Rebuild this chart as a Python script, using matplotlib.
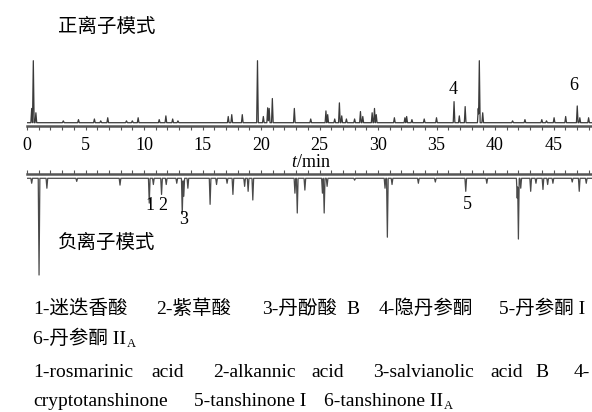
import numpy as np
import matplotlib
matplotlib.use("Agg")
import matplotlib.pyplot as plt
from matplotlib.ticker import MultipleLocator

plt.rcParams['font.family'] = ['Liberation Serif', 'Noto Sans CJK SC']
plt.rcParams['mathtext.fontset'] = 'custom'
plt.rcParams['mathtext.rm'] = 'Liberation Serif'
plt.rcParams['mathtext.it'] = 'Liberation Serif:italic'

# ---------------- data (relative intensity, largest positive peak = 100) ----
pos_rt = [0.40, 0.54, 0.76, 3.1, 4.4, 5.76, 6.3, 6.9, 8.5, 9.0, 9.5, 11.3, 11.87,
          12.45, 12.9, 17.2, 17.5, 18.4, 19.7, 20.2, 20.57, 20.7, 20.97, 22.85,
          24.25, 25.55, 25.7, 26.3, 26.7, 26.9, 27.3, 28.0, 28.5, 28.7, 29.5,
          29.7, 29.85, 31.4, 32.3, 32.45, 32.9, 33.95, 35.0, 36.5, 36.95, 37.45,
          38.57, 38.66, 38.95, 41.5, 42.56, 44.0, 44.4, 45.05, 46.04, 47.03,
          47.25, 48.0]
pos_int = [23, 100, 16, 3, 5, 6, 3, 8, 3, 3, 8, 5, 11,
           6, 3, 10, 13, 13, 100, 10, 24, 23, 39, 23,
           6, 19, 13, 6, 32, 11, 6, 6, 18, 10, 16,
           23, 13, 8, 8, 10, 5, 6, 8, 34, 11, 26,
           23, 100, 16, 3, 5, 5, 3, 8, 10, 27,
           8, 8]

neg_rt = [0.4, 1.03, 1.7, 4.25, 7.95, 10.45, 10.8, 11.5, 11.9, 12.8, 13.27, 13.4,
          13.75, 15.65, 16.2, 17.1, 17.6, 18.6, 18.9, 19.3, 22.9, 23.1, 23.75,
          25.25, 25.4, 25.65, 28.0, 30.6, 30.8, 31.2, 33.45, 34.9, 37.5, 39.3,
          41.9, 42.0, 42.2, 43.05, 43.5, 44.1, 44.5, 44.95, 46.6, 47.2, 47.8]
neg_int = [8, 156, 16, 5, 11, 40, 10, 26, 10, 8, 58, 29,
           16, 42, 10, 8, 26, 13, 21, 35, 24, 56, 19,
           24, 56, 13, 3, 16, 95, 10, 8, 6, 21, 8,
           32, 98, 16, 21, 8, 18, 10, 8, 6, 21, 8]

pos_labels = ['4', '6']
pos_label_rt = [36.4, 46.7]
neg_labels = ['1', '2', '3', '5']
neg_label_rt = [10.5, 11.6, 13.4, 37.6]

x_major = 5
x_max_label = 45


def trace(rts, ints, sign=1.0, hw=0.07):
    t = np.arange(0.0, 49.0, 0.01)
    y = np.zeros_like(t)
    for r, h in zip(rts, ints):
        tri = np.interp(t, [r - hw, r, r + hw], [0, h, 0], left=0, right=0)
        y = np.maximum(y, tri)
    return t, sign * y


W, H = 592, 412
fig = plt.figure(figsize=(W / 100, H / 100), dpi=100)

px_per_min = 11.7
x0 = 27
xlim = (0, 50)
ax_left = x0 / W
ax_width = (xlim[1] - xlim[0]) * px_per_min / W
s = 0.62  # px per intensity unit

# top axes: axis line at py=126, top at py=50
top_axis_py, top_top_py = 126, 50
axT = fig.add_axes([ax_left, 1 - top_axis_py / H, ax_width, (top_axis_py - top_top_py) / H])
ylo = -3.3 / s
axT.set_ylim(ylo, ylo + (top_axis_py - top_top_py) / s)
axT.set_xlim(*xlim)
t, y = trace(pos_rt, pos_int)
axT.plot(t, y, color='#3a3a3a', lw=0.9)
for sp in ['top', 'left', 'right']:
    axT.spines[sp].set_visible(False)
axT.spines['bottom'].set_linewidth(1.8)
axT.spines['bottom'].set_color('#555555')
axT.set_yticks([])
axT.xaxis.set_minor_locator(MultipleLocator(1))
axT.tick_params(axis='x', which='both', direction='out', length=3, width=0.8,
                color='#555555', labelsize=13, pad=5)
axT.set_xticks(np.arange(0, x_max_label + 1, x_major))
axT.set_xticklabels([str(v) for v in range(0, x_max_label + 1, x_major)])
pos_label_py = [90, 86]
for lab, r, py in zip(pos_labels, pos_label_rt, pos_label_py):
    axT.text(r, (top_axis_py - py) / s + ylo, lab, fontsize=13, ha='center', va='center')
axT.patch.set_alpha(0)

# bottom axes: axis line at py=174, bottom at py=284
bot_axis_py, bot_bot_py = 174, 284
axB = fig.add_axes([ax_left, 1 - bot_bot_py / H, ax_width, (bot_bot_py - bot_axis_py) / H])
yhi = 4.3 / s
axB.set_ylim(yhi - (bot_bot_py - bot_axis_py) / s, yhi)
axB.set_xlim(*xlim)
t, y = trace(neg_rt, neg_int, sign=-1.0)
axB.plot(t, y, color='#4a4a4a', lw=0.9)
for sp in ['bottom', 'left', 'right']:
    axB.spines[sp].set_visible(False)
axB.spines['top'].set_linewidth(1.8)
axB.spines['top'].set_color('#555555')
axB.set_yticks([])
axB.xaxis.tick_top()
axB.xaxis.set_major_locator(MultipleLocator(x_major))
axB.xaxis.set_minor_locator(MultipleLocator(1))
axB.tick_params(axis='x', which='both', direction='out', length=3, width=0.8,
                color='#555555', labeltop=False, labelbottom=False)
neg_label_py = [205, 205, 220, 204]
for lab, r, py in zip(neg_labels, neg_label_rt, neg_label_py):
    axB.text(r, yhi - (py - bot_axis_py) / s, lab, fontsize=13, ha='center', va='center')
axB.patch.set_alpha(0)

# texts
fig.text(311 / W, 1 - 163 / H, r'$t$/min', fontsize=13, ha='center', va='center')
fig.text(58 / W, 1 - 27 / H, '正离子模式', fontsize=14, ha='left', va='center')
fig.text(58 / W, 1 - 243 / H, '负离子模式', fontsize=14, ha='left', va='center')

cap_fs = 14
cap = [
    (33, 314, '1-迷迭香酸', ''), (156, 314, '2-紫草酸', ''), (262, 314, '3-丹酚酸', ''),
    (346, 314, 'B', ''), (379, 314, '4-隐丹参酮', ''), (499, 314, '5-丹参酮 I', ''),
    (33, 344, '6-丹参酮 II', 'A'),
    (33, 377, '1-rosmarinic', ''), (151, 377, 'acid', ''), (213, 377, '2-alkannic', ''),
    (311, 377, 'acid', ''), (373, 377, '3-salvianolic', ''), (490, 377, 'acid', ''),
    (535, 377, 'B', ''), (574, 377, '4-', ''),
    (33, 406, 'cryptotanshinone', ''), (194, 406, '5-tanshinone I', ''),
    (324, 406, '6-tanshinone II', 'A'),
]
renderer = fig.canvas.get_renderer()
for x, yb, s_, sub in cap:
    txt = fig.text(x / W, 1 - yb / H, s_, fontsize=cap_fs, ha='left', va='baseline')
    if sub:
        bb = txt.get_window_extent(renderer=renderer)
        fig.text((bb.x1 + 0.5) / W, 1 - (yb + 3) / H, sub, fontsize=9,
                 ha='left', va='baseline')

fig.savefig('out.png', dpi=100)
